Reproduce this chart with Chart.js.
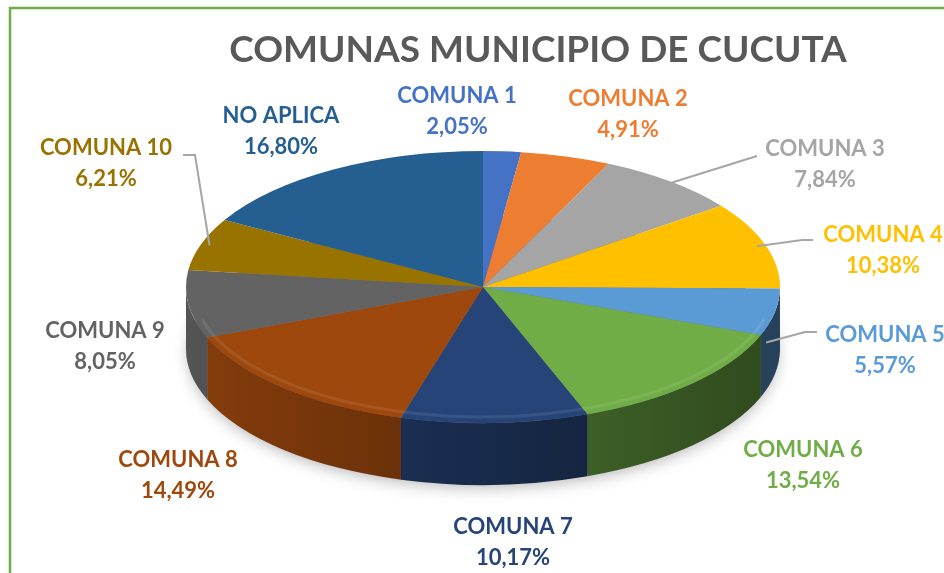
<!DOCTYPE html>
<html lang="es">
<head>
<meta charset="utf-8">
<title>Comunas Municipio de Cucuta</title>
<script src="https://cdn.jsdelivr.net/npm/chart.js@4.4.1/dist/chart.umd.min.js"></script>
<style>
    html, body { margin: 0; padding: 0; background: #ffffff; }
    #wrap { width: 944px; height: 573px; }
</style>
</head>
<body>
<div id="wrap"><canvas id="pieComunas" width="944" height="573"></canvas></div>
<script>
// ==========================================
// DATOS
// ==========================================

const comunas = ['COMUNA 1', 'COMUNA 2', 'COMUNA 3', 'COMUNA 4', 'COMUNA 5', 'COMUNA 6',
                 'COMUNA 7', 'COMUNA 8', 'COMUNA 9', 'COMUNA 10', 'NO APLICA'];
const porcentajes = [2.05, 4.91, 7.84, 10.38, 5.57, 13.54, 10.17, 14.49, 8.05, 6.21, 16.80];
const colores = ['#4472C4', '#ED7D31', '#A5A5A5', '#FFC000', '#5B9BD5', '#70AD47',
                 '#264478', '#9E480E', '#636363', '#997300', '#255E91'];

// ==========================================
// LAYOUT (posiciones de la elipse y etiquetas)
// ==========================================

const pieLayout = { cx: 483, cy: 287, rx: 297, ry: 136, depth: 62 };
const labelPos = [
    [457, 96], [628, 99], [825, 149], [883, 235], [885, 335], [803, 450],
    [513, 527], [178, 460], [105, 331], [106, 148], [281, 116]
];
// puntos de quiebre de las lineas guia (solo algunas etiquetas)
const guias = {
    2: [[757, 156]],
    3: [[802, 240], [813, 240]],
    4: [[805, 332], [817, 332]],
    9: [[195, 155], [183, 155]]
};

function formatPct(v) {
    return v.toFixed(2).replace('.', ',') + '%';
}

function shade(hex, f) {
    const n = parseInt(hex.slice(1), 16);
    const r = Math.round(((n >> 16) & 255) * f);
    const g = Math.round(((n >> 8) & 255) * f);
    const b = Math.round((n & 255) * f);
    return `rgb(${r},${g},${b})`;
}

// ==========================================
// PLUGIN: pastel 3D (elipse + lateral)
// ==========================================

const pie3d = {
    id: 'pie3d',
    beforeDatasetsDraw(chart, args, opts) {
        const ctx = chart.ctx;
        const meta = chart.getDatasetMeta(0);
        const a0 = meta.data[0];
        const { cx, cy, rx, ry, depth } = opts;

        // sombra
        ctx.save();
        ctx.shadowColor = 'rgba(0,0,0,0.3)';
        ctx.shadowBlur = 16;
        ctx.shadowOffsetY = 5;
        ctx.fillStyle = '#777';
        ctx.beginPath();
        ctx.ellipse(cx, cy + depth, rx - 3, ry - 3, 0, 0, Math.PI * 2);
        ctx.fill();
        ctx.restore();

        // lateral visible (angulos 0..PI en coordenadas del canvas)
        meta.data.forEach((arc, i) => {
            const s = Math.max(arc.startAngle, 0);
            const e = Math.min(arc.endAngle, Math.PI);
            if (e <= s) return;
            const grad = ctx.createLinearGradient(cx - rx, 0, cx + rx, 0);
            grad.addColorStop(0, shade(colores[i], 0.85));
            grad.addColorStop(0.5, shade(colores[i], 0.62));
            grad.addColorStop(1, shade(colores[i], 0.42));
            ctx.beginPath();
            ctx.ellipse(cx, cy, rx, ry, 0, s, e);
            ctx.ellipse(cx, cy + depth, rx, ry, 0, e, s, true);
            ctx.closePath();
            ctx.fillStyle = grad;
            ctx.fill();
        });

        // cara superior: escalar el pastel de Chart.js a la elipse
        ctx.save();
        ctx.translate(cx, cy);
        ctx.scale(rx / a0.outerRadius, ry / a0.outerRadius);
        ctx.translate(-a0.x, -a0.y);
    },
    afterDatasetsDraw(chart, args, opts) {
        const ctx = chart.ctx;
        ctx.restore();
        const { cx, cy, rx, ry } = opts;
        // brillo suave del borde frontal
        ctx.save();
        ctx.strokeStyle = 'rgba(255,255,255,0.09)';
        ctx.lineWidth = 3;
        ctx.beginPath();
        ctx.ellipse(cx, cy, rx - 7, ry - 6, 0, 0.25, Math.PI - 0.25);
        ctx.stroke();
        ctx.restore();
    },
    afterDraw(chart, args, opts) {
        const ctx = chart.ctx;
        const meta = chart.getDatasetMeta(0);
        const { cx, cy, rx, ry, depth } = opts;

        // lineas guia
        ctx.save();
        ctx.strokeStyle = '#A6A6A6';
        ctx.lineWidth = 2;
        Object.keys(guias).forEach(k => {
            const arc = meta.data[k];
            const mid = (arc.startAngle + arc.endAngle) / 2;
            let px = cx + rx * 0.97 * Math.cos(mid);
            let py = cy + ry * 0.97 * Math.sin(mid);
            if (Math.sin(mid) > 0) py += depth * 0.5;
            ctx.beginPath();
            ctx.moveTo(px, py);
            guias[k].forEach(p => ctx.lineTo(p[0], p[1]));
            ctx.stroke();
        });
        ctx.restore();

        // etiquetas
        ctx.save();
        ctx.font = "bold 22px 'Lato', sans-serif";
        ctx.textAlign = 'center';
        ctx.textBaseline = 'middle';
        comunas.forEach((c, i) => {
            const [x, y] = labelPos[i];
            ctx.fillStyle = colores[i];
            ctx.fillText(c, x, y);
            ctx.fillText(formatPct(porcentajes[i]), x, y + 31);
        });
        ctx.restore();

        // marco verde
        ctx.save();
        ctx.strokeStyle = '#70AD47';
        ctx.lineWidth = 2.5;
        ctx.beginPath();
        ctx.moveTo(10, 575);
        ctx.lineTo(10, 8);
        ctx.lineTo(946, 8);
        ctx.stroke();
        ctx.restore();
    }
};

// ==========================================
// GRAFICO
// ==========================================

const ctx = document.getElementById('pieComunas').getContext('2d');

new Chart(ctx, {
    type: 'pie',
    data: {
        labels: comunas,
        datasets: [{
            data: porcentajes,
            backgroundColor: colores,
            borderWidth: 0,
            clip: false
        }]
    },
    options: {
        responsive: false,
        animation: false,
        layout: { padding: { left: 132 } },
        plugins: {
            legend: { display: false },
            tooltip: { enabled: false },
            title: {
                display: true,
                text: 'COMUNAS MUNICIPIO DE CUCUTA',
                color: '#595959',
                font: { family: "'Lato', sans-serif", size: 37, weight: 'bold' },
                padding: { top: 28, bottom: 10 }
            },
            pie3d: pieLayout
        }
    },
    plugins: [pie3d]
});
</script>
</body>
</html>
